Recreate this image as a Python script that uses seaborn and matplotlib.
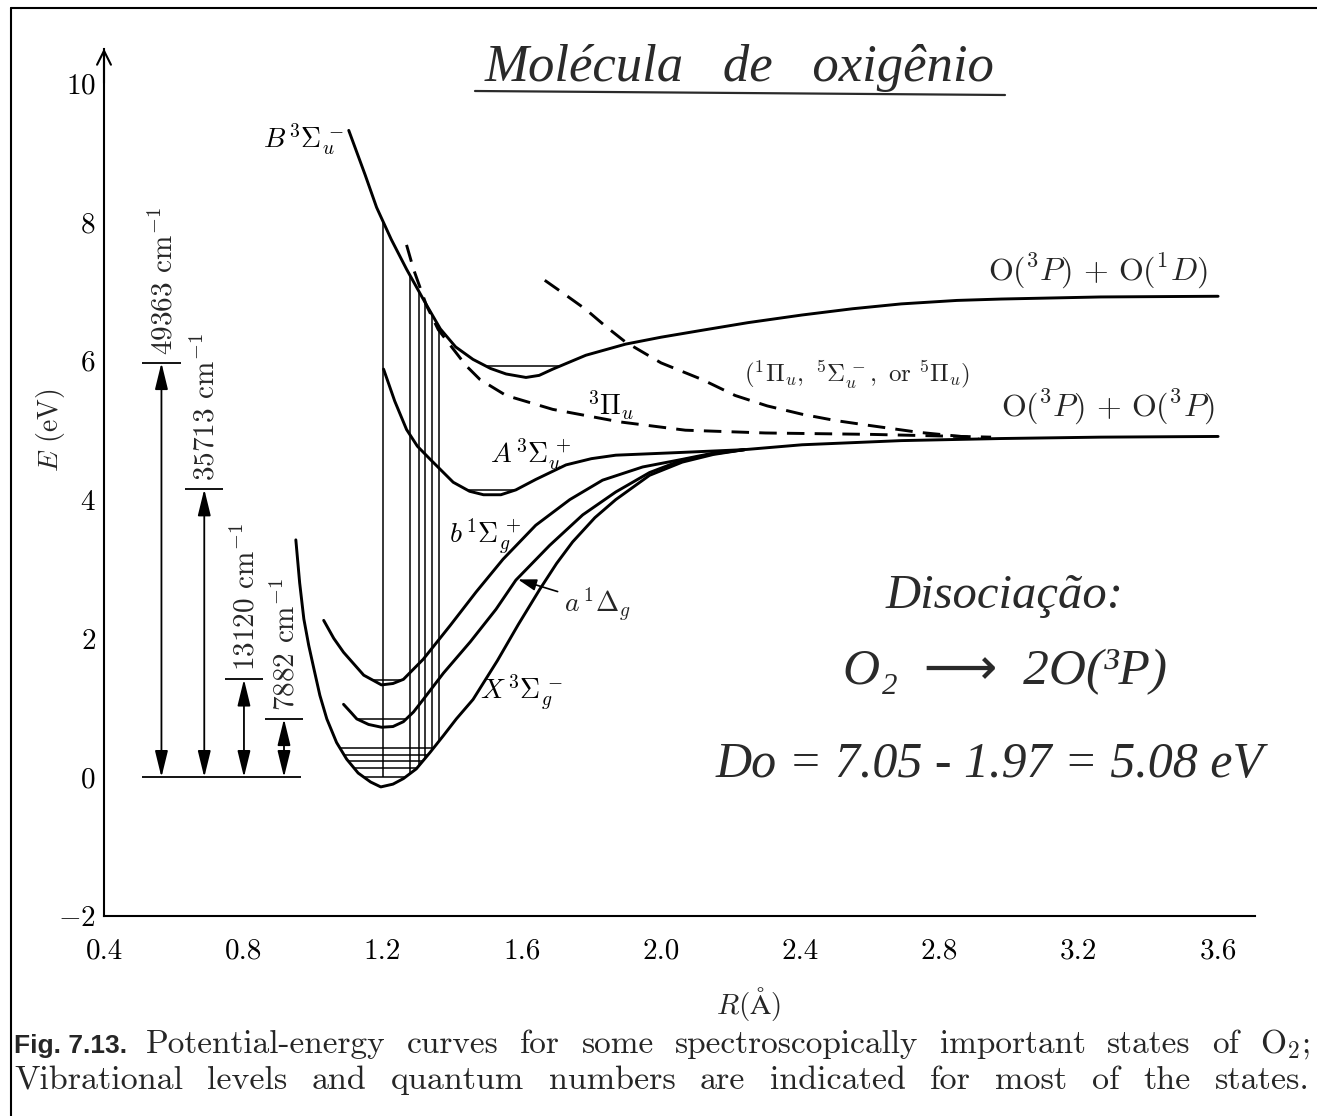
import numpy as np
import pandas as pd
import matplotlib
matplotlib.use('Agg')
import matplotlib.pyplot as plt
from matplotlib.lines import Line2D
import seaborn as sns

# --- curves: R in angstrom, E in eV ---
r_X = [0.951, 0.962, 0.974, 0.988, 1.003, 1.02, 1.04, 1.068, 1.097, 1.13, 1.166, 1.195,
       1.23, 1.26, 1.297, 1.337, 1.375, 1.412, 1.46, 1.53, 1.59, 1.652, 1.70, 1.746, 1.81,
       1.87, 1.967, 2.061, 2.15, 2.24, 2.405, 2.69, 2.977, 3.263, 3.6]
E_X = [3.42, 2.80, 2.28, 1.90, 1.56, 1.18, 0.84, 0.50, 0.26, 0.06, -0.07, -0.14,
       -0.10, -0.02, 0.12, 0.36, 0.60, 0.84, 1.12, 1.68, 2.20, 2.71, 3.08, 3.39, 3.74,
       4.00, 4.35, 4.54, 4.65, 4.72, 4.79, 4.85, 4.88, 4.90, 4.91]

r_a = [1.088, 1.11, 1.126, 1.16, 1.197, 1.23, 1.26, 1.289, 1.317, 1.375, 1.452, 1.526,
       1.583, 1.68, 1.775, 1.87, 1.967, 2.061, 2.15, 2.24]
E_a = [1.05, 0.93, 0.84, 0.76, 0.72, 0.73, 0.80, 0.94, 1.12, 1.50, 1.95, 2.42,
       2.84, 3.34, 3.78, 4.11, 4.39, 4.57, 4.66, 4.72]

r_b = [1.031, 1.06, 1.088, 1.146, 1.197, 1.23, 1.26, 1.317, 1.395, 1.469, 1.546, 1.64,
       1.738, 1.832, 1.947, 2.061, 2.15, 2.24]
E_b = [2.26, 2.00, 1.80, 1.47, 1.33, 1.35, 1.41, 1.70, 2.19, 2.67, 3.14, 3.63,
       4.00, 4.28, 4.47, 4.58, 4.67, 4.72]

r_A = [1.203, 1.235, 1.269, 1.30, 1.337, 1.403, 1.45, 1.49, 1.54, 1.583, 1.64, 1.727,
       1.80, 1.87, 2.06, 2.24]
E_A = [5.88, 5.42, 5.01, 4.77, 4.58, 4.25, 4.12, 4.07, 4.07, 4.14, 4.29, 4.50,
       4.59, 4.64, 4.68, 4.72]

r_B = [1.103, 1.15, 1.183, 1.225, 1.269, 1.32, 1.366, 1.41, 1.46, 1.51, 1.555, 1.612,
       1.65, 1.689, 1.784, 1.898, 2.0, 2.118, 2.25, 2.405, 2.55, 2.69, 2.85, 2.977,
       3.263, 3.6]
E_B = [9.32, 8.68, 8.21, 7.75, 7.32, 6.86, 6.46, 6.20, 6.02, 5.89, 5.81, 5.76,
       5.79, 5.88, 6.08, 6.24, 6.34, 6.44, 6.55, 6.66, 6.75, 6.82, 6.87, 6.89,
       6.92, 6.93]

# dashed repulsive states
r_Pi3 = [1.269, 1.289, 1.326, 1.36, 1.403, 1.44, 1.48, 1.555, 1.689, 1.881, 2.07,
         2.3, 2.6, 2.948]
E_Pi3 = [7.67, 7.32, 6.80, 6.45, 6.17, 5.93, 5.73, 5.50, 5.30, 5.12, 5.00,
         4.96, 4.94, 4.90]
r_Pi1 = [1.666, 1.72, 1.784, 1.84, 1.898, 2.0, 2.118, 2.213, 2.305, 2.405, 2.5,
         2.596, 2.739, 2.882, 2.911]
E_Pi1 = [7.16, 6.97, 6.74, 6.50, 6.27, 5.97, 5.73, 5.50, 5.35, 5.23, 5.14,
         5.07, 4.97, 4.90, 4.88]

# vibrational levels drawn inside the wells
X_levels = [0.0, 0.13, 0.24, 0.32, 0.42]
a_level = 0.84
b_level = 1.40
A_level = 4.14
B_level = 5.92

# Franck-Condon verticals from X up to B
fc_r = [1.20, 1.28, 1.305, 1.322, 1.342, 1.363]

# term energies (double arrows on the left)
arrow_r = [0.565, 0.688, 0.802, 0.917]
arrow_E = [5.97, 4.15, 1.41, 0.84]
arrow_txt = ['49363', '35713', '13120', '7882']

W, H = 1317, 1116

sns.set_theme(style='white')
plt.rcParams['font.family'] = 'serif'
plt.rcParams['font.serif'] = ['cmr10']
plt.rcParams['mathtext.fontset'] = 'cm'
plt.rcParams['axes.formatter.use_mathtext'] = True
plt.rcParams['axes.unicode_minus'] = True

fig = plt.figure(figsize=(W / 100, H / 100), dpi=100)
fig.patch.set_facecolor('white')
ax = fig.add_axes([104 / W, 200 / H, 1151 / W, 867.5 / H])
ax.set_facecolor('white')


def curve(r, E, dashed=False, lw=2.1):
    df = pd.DataFrame({'R': r, 'E': E})
    kw = dict(dashes=(6, 3.5)) if dashed else {}
    sns.lineplot(data=df, x='R', y='E', ax=ax, color='black', lw=lw,
                 sort=False, estimator=None, **kw)


def well_span(r, E, level):
    r = np.asarray(r)
    E = np.asarray(E)
    i = int(np.argmin(E))
    rl = np.interp(level, E[:i + 1][::-1], r[:i + 1][::-1])
    rr = np.interp(level, E[i:], r[i:])
    return rl, rr


for r, E in [(r_X, E_X), (r_a, E_a), (r_b, E_b), (r_A, E_A), (r_B, E_B)]:
    curve(r, E)
curve(r_Pi3, E_Pi3, dashed=True)
curve(r_Pi1, E_Pi1, dashed=True)

# levels
for lev in X_levels:
    l, rr = well_span(r_X, E_X, lev)
    ax.hlines(lev, l, rr, color='black', lw=1.1)
for r, E, lev in [(r_a, E_a, a_level), (r_b, E_b, b_level),
                  (r_A, E_A, A_level), (r_B, E_B, B_level)]:
    l, rr = well_span(r, E, lev)
    ax.hlines(lev, l, rr, color='black', lw=1.1)

# transitions
i_min = int(np.argmin(E_X))
fc_hi = np.interp(fc_r, r_B, E_B)
fc_lo = np.maximum(np.interp(fc_r, r_X[i_min:], E_X[i_min:]), 0.0)
fc_lo[0] = 0.0
ax.vlines(fc_r, fc_lo, fc_hi, color='black', lw=1.1)

# double arrows
ax.hlines(0, 0.51, 0.965, color='black', lw=1.3)
for r, e, t in zip(arrow_r, arrow_E, arrow_txt):
    ax.annotate('', xy=(r, e), xytext=(r, 0),
                arrowprops=dict(arrowstyle='<|-|>,head_length=0.9,head_width=0.22',
                                color='black', lw=1.3, shrinkA=0, shrinkB=0,
                                mutation_scale=18))
    ax.hlines(e, r - 0.055, r + 0.055, color='black', lw=1.3)
    ax.text(r + 0.006, e + 0.12, t + r' cm$^{-1}$', rotation=90, ha='center',
            va='bottom', fontsize=21)

# state labels
lab = dict(fontsize=20, color='black')
ax.text(1.088, 9.19, r'$B\,{}^3\Sigma_u^{\,-}$', ha='right', va='center', **lab)
ax.text(1.626, 4.65, r'$A\,{}^3\Sigma_u^{\,+}$', ha='center', va='center', **lab)
ax.text(1.495, 3.46, r'$b\,{}^1\Sigma_g^{\,+}$', ha='center', va='center', **lab)
ax.text(1.60, 1.22, r'$X\,{}^3\Sigma_g^{\,-}$', ha='center', va='center', **lab)
ax.text(1.855, 5.36, r'${}^3\Pi_u$', ha='center', va='center', **lab)
ax.text(2.562, 5.81, r'$({}^1\Pi_u,\ {}^5\Sigma_u^{\,-},\ \mathrm{or}\ {}^5\Pi_u)$',
        ha='center', va='center', fontsize=18)
ax.text(3.255, 7.28, r'$\mathrm{O}({}^3P)\,+\,\mathrm{O}({}^1D)$', ha='center',
        va='center', fontsize=23)
ax.text(3.283, 5.33, r'$\mathrm{O}({}^3P)\,+\,\mathrm{O}({}^3P)$', ha='center',
        va='center', fontsize=23)
ax.annotate(r'$a\,{}^1\Delta_g$', xy=(1.589, 2.85), xytext=(1.72, 2.50),
            ha='left', va='center', fontsize=20,
            arrowprops=dict(arrowstyle='-|>,head_length=0.8,head_width=0.25',
                            color='black', lw=1.2, shrinkA=2, shrinkB=0,
                            mutation_scale=14))

# axes
ax.set_xlim(0.4, 3.706)
ax.set_ylim(-2, 10.5)
ax.set_xticks([0.4, 0.8, 1.2, 1.6, 2.0, 2.4, 2.8, 3.2, 3.6])
ax.set_xticklabels(['0.4', '0.8', '1.2', '1.6', '2.0', '2.4', '2.8', '3.2', '3.6'])
ax.set_yticks([-2, 0, 2, 4, 6, 8, 10])
for s in ['top', 'right']:
    ax.spines[s].set_visible(False)
for s in ['left', 'bottom']:
    ax.spines[s].set_color('black')
    ax.spines[s].set_linewidth(1.5)
ax.tick_params(axis='both', direction='in', length=9, width=1.3, colors='black',
               labelsize=21)
ax.tick_params(axis='x', pad=16)
ax.tick_params(axis='y', pad=6)
ax.set_xlabel(r'$R(\mathrm{\AA})$', fontsize=21)
ax.set_ylabel(r'$E$ (eV)', fontsize=20)
ax.xaxis.set_label_coords(0.5595, -0.080)
ax.yaxis.set_label_coords(-0.032, 0.56)
ax.annotate('', xy=(0.4, 10.5), xytext=(0.4, 10.0), annotation_clip=False,
            arrowprops=dict(arrowstyle='->,head_length=0.5,head_width=0.25',
                            color='black', lw=1.5, shrinkA=0, shrinkB=0,
                            mutation_scale=20))

# handwritten notes
hand = dict(family=['Liberation Serif', 'DejaVu Sans'], style='italic', color='#2a2a2a',
            ha='center', va='center')
fig.text(740 / W, 1 - 68 / H, 'Molécula   de   oxigênio', fontsize=38, **hand)
fig.add_artist(Line2D([475 / W, 1005 / W], [1 - 91 / H, 1 - 95 / H],
                      color='#2a2a2a', lw=1.6))
fig.text(1005 / W, 1 - 596 / H, 'Disociação:', fontsize=35, **hand)
fig.text(1005 / W, 1 - 672 / H, 'O₂  ⟶  2O(³P)', fontsize=37, **hand)
fig.text(990 / W, 1 - 765 / H, 'Do = 7.05 - 1.97 = 5.08 eV', fontsize=36, **hand)

# frame of the scanned page
fig.add_artist(Line2D([11 / W, 1], [1 - 8 / H, 1 - 8 / H], color='black', lw=1.5))
fig.add_artist(Line2D([11 / W, 11 / W], [0, 1 - 8 / H], color='black', lw=1.5))

# caption
renderer = fig.canvas.get_renderer()


def justified(words, x0, x1, ypx, size, **kw):
    texts = [fig.text(0, 1 - ypx / H, w, fontsize=size, va='baseline', ha='left', **kw)
             for w in words]
    widths = [t.get_window_extent(renderer).width for t in texts]
    gap = (x1 - x0 - sum(widths)) / (len(words) - 1)
    x = x0
    for t, w in zip(texts, widths):
        t.set_x(x / W)
        x += w + gap


fig.text(14 / W, 1 - 1053 / H, 'Fig. 7.13.', fontsize=19, fontweight='bold',
         family='Liberation Sans', va='baseline', ha='left')
justified('Potential-energy curves for some spectroscopically important states of O$_2$;'.split(),
          146, 1310, 1053, 24)
justified('Vibrational levels and quantum numbers are indicated for most of the states.'.split(),
          14, 1310, 1089, 24.5)

fig.savefig('out.png', dpi=100, facecolor='white')
plt.close(fig)
